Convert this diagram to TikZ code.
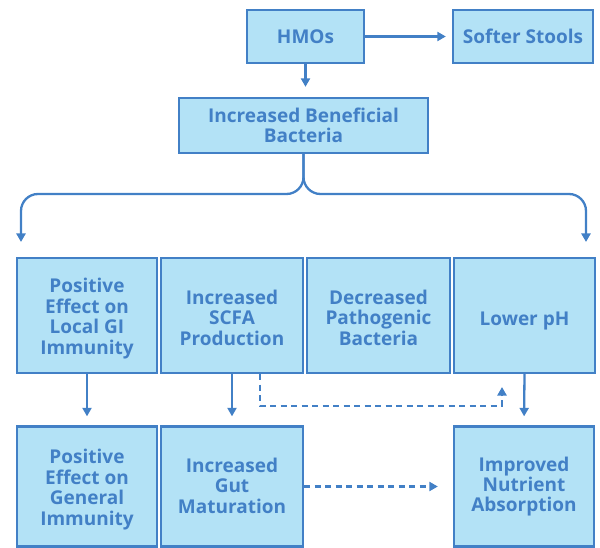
\documentclass[tikz,border=0pt]{standalone}
\usepackage{fontspec}
\setmainfont{Open Sans}
\usetikzlibrary{arrows.meta,calc}
\definecolor{bc}{HTML}{4280C6}
\definecolor{fc}{HTML}{B3E2F6}
\newcommand\lowlines[2]{\raisebox{-#1}[\height][\depth]{\begin{tabular}{@{}c@{}}#2\end{tabular}}}
\tikzset{
  box/.style={draw=bc, line width=2.3pt, fill=fc, text=bc, align=center, inner sep=0pt,
    font=\bfseries\fontsize{19}{20.3}\selectfont},
  arr/.style={draw=bc, line width=2.3pt, -{Triangle[width=9pt,length=8.5pt]}},
  dsh/.style={arr, dash pattern=on 6pt off 4.5pt}
}
\begin{document}
\begin{tikzpicture}[x=1pt,y=-1pt]
\useasboundingbox (0,0) rectangle (600,548);
\node[box, minimum width=117pt, minimum height=53pt] (hmo) at (305.5,36.5) {HMOs};
\node[box, minimum width=140pt, minimum height=53pt] (soft) at (523,36.5) {Softer Stools};
\node[box, minimum width=249pt, minimum height=55pt] (ibb) at (303.5,125.5) {Increased Beneficial\\Bacteria};
\node[box, minimum width=140pt, minimum height=115pt] (b1) at (87,315.5) {\lowlines{4pt}{Positive\\Effect on\\Local GI\\Immunity}};
\node[box, minimum width=142pt, minimum height=115pt] (b2) at (232,315.5) {\lowlines{5pt}{Increased\\SCFA\\Production}};
\node[box, minimum width=143pt, minimum height=115pt] (b3) at (378.5,315.5) {\lowlines{5pt}{Decreased\\Pathogenic\\Bacteria}};
\node[box, minimum width=141pt, minimum height=115pt] (b4) at (524.5,315.5) {\lowlines{6pt}{Lower pH}};
\node[box, minimum width=140pt, minimum height=120pt] (c1) at (87,486.5) {\lowlines{4pt}{Positive\\Effect on\\General\\Immunity}};
\node[box, minimum width=142pt, minimum height=120pt] (c2) at (232,486.5) {\lowlines{2pt}{Increased\\Gut\\Maturation}};
\node[box, minimum width=140pt, minimum height=120pt] (c4) at (524,486.5) {Improved\\Nutrient\\Absorption};
\coordinate (Lc) at (21,194);
\coordinate (L) at (21,242);
\coordinate (Rc) at (586,194);
\coordinate (R) at (586,242);
\coordinate (d1) at (260,406);
\coordinate (d2) at (502,387);
\draw[arr, shorten >=6pt] (hmo.east) -- (soft.west);
\draw[arr, shorten >=10pt] (hmo.south) -- (hmo.south |- ibb.north);
\draw[arr, rounded corners=17pt] (ibb.south) |- (Lc) -- (L);
\draw[arr, rounded corners=17pt] (ibb.south) |- (Rc) -- (R);
\draw[arr, shorten >=9pt] (b1.south) -- (c1.north);
\draw[arr, shorten >=9pt] (b2.south) -- (c2.north);
\draw[arr, shorten >=9pt] (b4.south) -- (c4.north);
\draw[dsh, -] (b2.south -| d1) -- (d1) -| (d2);
\draw[dsh] (d1 -| d2) -- (d2);
\draw[dsh, shorten >=15pt] (c2.east) -- (c4.west);
\end{tikzpicture}
\end{document}
